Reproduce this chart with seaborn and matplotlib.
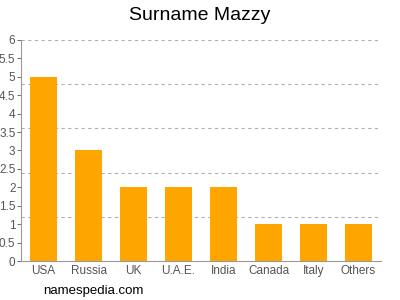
import matplotlib
matplotlib.use("Agg")
import matplotlib.pyplot as plt
import seaborn as sns
import numpy as np

countries = ["USA", "Russia", "UK", "U.A.E.", "India", "Canada", "Italy", "Others"]
counts = [5, 3, 2, 2, 2, 1, 1, 1]
yticks = [0, 0.5, 1, 1.5, 2, 2.5, 3, 3.5, 4, 4.5, 5, 5.5, 6]
ytick_labels = ["0", "0.5", "1", "1.5", "2", "2.5", "3", "3.5", "4", "4.5", "5", "5.5", "6"]
grid_levels = [1.2, 2.4, 3.6, 4.8, 6.0]

sns.set_style("white")
plt.rcParams["font.family"] = ["Liberation Sans", "DejaVu Sans"]
fig = plt.figure(figsize=(4, 3), dpi=100)
ax = fig.add_axes([0.0525, 0.13, 0.9, 0.737])
for g in grid_levels:
    ax.axhline(g, color="#b0b0b0", linestyle=(0, (3, 3)), linewidth=0.8, zorder=0)
sns.barplot(x=countries, y=counts, color="#ffa500", saturation=1, width=0.6, ax=ax, zorder=2, linewidth=0)
ax.set_ylim(0, 6)
ax.set_xlim(-0.5, len(countries) - 0.5)
ax.set_yticks(yticks)
ax.set_yticklabels(ytick_labels)
ax.tick_params(axis="y", labelsize=8.5, colors="#555555", length=3, width=0.6, pad=1, left=True)
ax.tick_params(axis="x", labelsize=8.5, colors="#555555", length=0, pad=3)
for lab in ax.get_xticklabels() + ax.get_yticklabels():
    lab.set_color("#555555")
for s in ["top", "right"]:
    ax.spines[s].set_visible(False)
for s in ["left", "bottom"]:
    ax.spines[s].set_color("#999999")
    ax.spines[s].set_linewidth(0.8)
ax.set_xlabel("")
ax.set_ylabel("")
fig.text(0.5, 0.95, "Surname Mazzy", ha="center", va="center", fontsize=14, color="#000000")
fig.text(0.108, 0.03, "namespedia.com", ha="left", va="center", fontsize=9.5, color="#000000")
fig.savefig("out.png", dpi=100)
